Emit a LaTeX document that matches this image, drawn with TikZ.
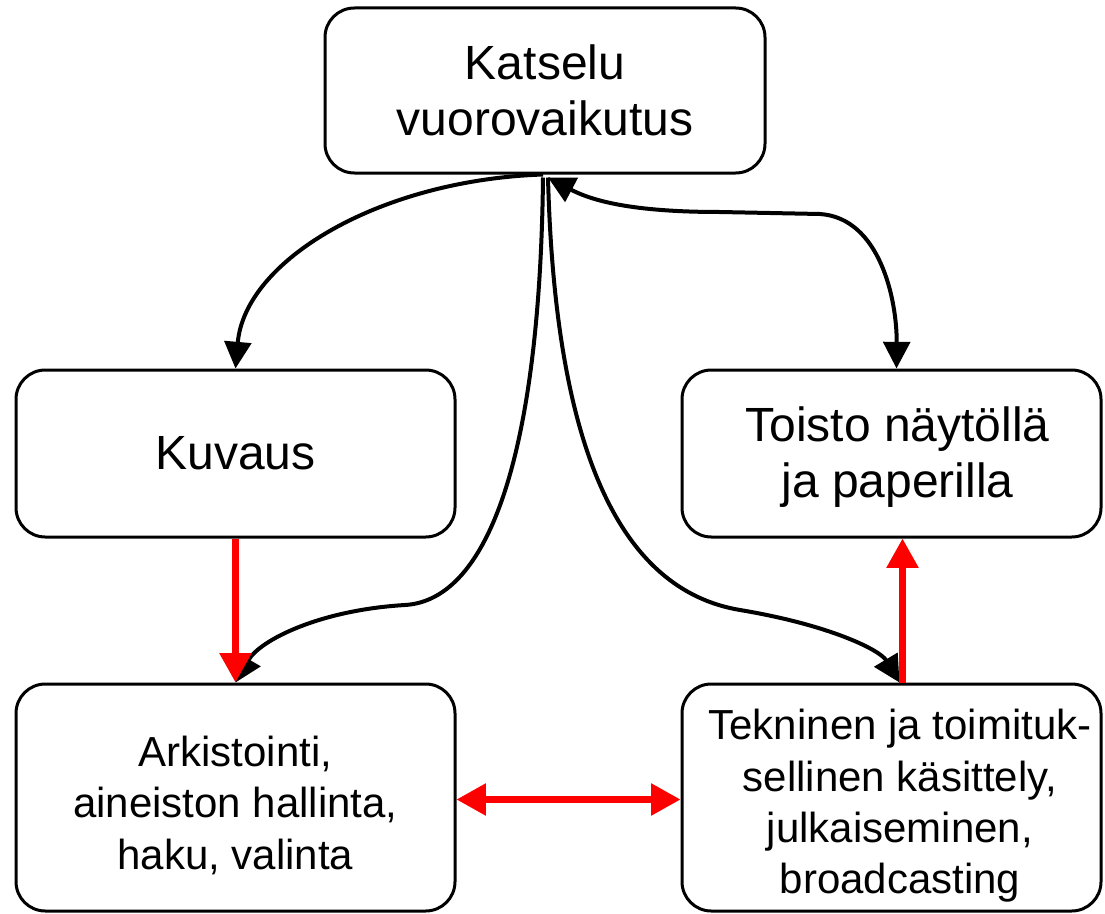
\documentclass[tikz,border=0pt]{standalone}
\usepackage{fontspec}
\setmainfont{Liberation Sans}
\usetikzlibrary{arrows.meta,calc}
\newcommand{\lines}[1]{\begin{tabular}{@{}c@{}}#1\end{tabular}}
\newcommand{\lowerby}[2]{\raisebox{-#1}[\height][\depth]{#2}}
\begin{document}
\begin{tikzpicture}[x=0.75pt,y=-0.75pt,
  box/.style={draw,line width=2.25pt,rounded corners=22pt,align=center,inner sep=0pt},
  bigbox/.style={box,font=\fontsize{36}{42}\selectfont},
  smallbox/.style={box,font=\fontsize{31.5}{38.5}\selectfont},
  blk/.style={line width=3pt,-{Triangle[length=20pt,width=20pt]}},
  blkboth/.style={line width=3pt,{Triangle[length=20pt,width=20pt]}-{Triangle[length=20pt,width=20pt]}},
  redarr/.style={draw=red,line width=4.75pt,-{Triangle[length=22pt,width=23pt]},red},
  redboth/.style={draw=red,line width=4.75pt,{Triangle[length=22pt,width=23pt]}-{Triangle[length=22pt,width=23pt]},red}]
\useasboundingbox (0,0) rectangle (1105,913);
\node[bigbox,minimum width=330pt,minimum height=123.75pt] (kat) at (545,90.5) {Katselu\\vuorovaikutus};
\node[bigbox,minimum width=329.25pt,minimum height=125.25pt] (kuv) at (235.5,453.5) {Kuvaus};
\node[bigbox,minimum width=314.25pt,minimum height=125.25pt] (toi) at (891.5,453.5) {\hspace*{9pt}\lowerby{3.5pt}{\lines{Toisto näytöllä\\ja paperilla}}};
\node[smallbox,minimum width=329.25pt,minimum height=170.25pt] (ark) at (235.5,797.5) {\lowerby{7.5pt}{\lines{Arkistointi,\\aineiston hallinta,\\haku, valinta}}};
\node[smallbox,minimum width=314.25pt,minimum height=170.25pt] (tek) at (891.5,797.5) {\hspace*{12.75pt}\lowerby{6.75pt}{\lines{Tekninen ja toimituk-\\sellinen käsittely,\\julkaiseminen,\\broadcasting}}};
% black connectors
\draw[blk] ($(kat.south)+(-2,0)$) .. controls (380,180) and (245,260) .. (kuv.north);
\draw[blkboth] ($(kat.south)+(3,3)$) .. controls (600,205) and (650,212) .. (720,212) -- (820,214) .. controls (880,218) and (897,300) .. ($(toi.north)+(5,0)$);
\draw[blk] ($(kat.south)+(-2,3)$) .. controls (540,450) and (490,600) .. (405,605) .. controls (320,610) and (260,640) .. (ark.north);
\draw[blk] ($(kat.south)+(3,3)$) .. controls (555,450) and (620,590) .. (740,610) .. controls (830,625) and (880,650) .. ($(tek.north)+(8,0)$);
% red connectors
\draw[redarr] (kuv.south) -- (ark.north);
\draw[redarr] ($(tek.north)+(11,0)$) -- ($(toi.south)+(11,0)$);
\draw[redboth] ($(ark.east)+(0,2)$) -- ($(tek.west)+(0,2)$);
\end{tikzpicture}
\end{document}
